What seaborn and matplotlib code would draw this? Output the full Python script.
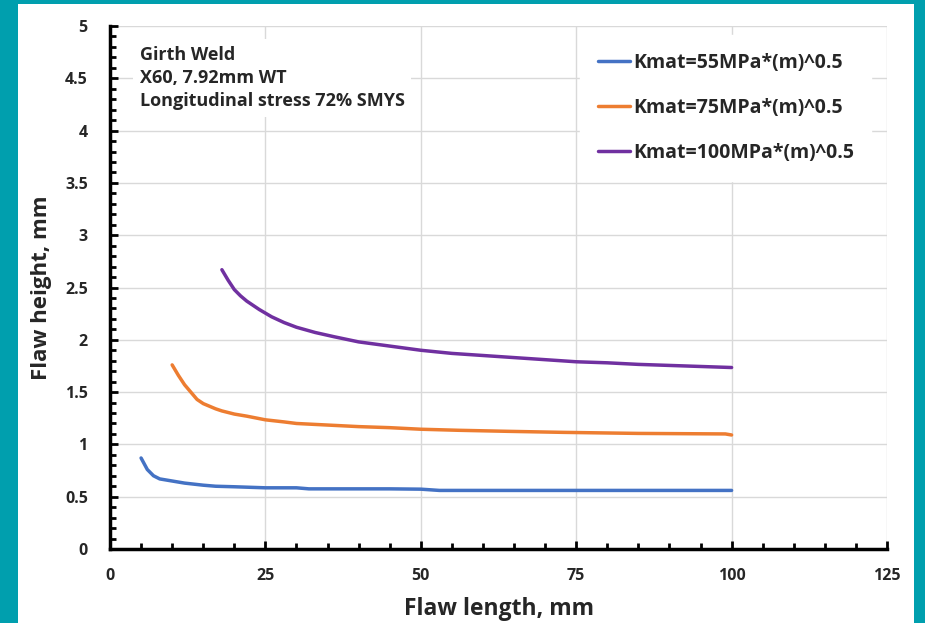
import pandas as pd
import seaborn as sns
import matplotlib.pyplot as plt
from matplotlib.patches import Rectangle
from matplotlib.ticker import MultipleLocator

# data
x_55 = [5, 6, 7, 8, 10, 12, 15, 17, 20, 25, 30, 32, 40, 45, 50, 53, 60, 70, 80, 90, 100]
y_55 = [0.87, 0.76, 0.70, 0.67, 0.65, 0.63, 0.61, 0.60, 0.595, 0.585, 0.585, 0.575, 0.575, 0.575, 0.572, 0.56, 0.56, 0.56, 0.56, 0.56, 0.56]
x_75 = [10, 11, 12, 13, 14, 15, 17, 18, 20, 22, 25, 28, 30, 35, 40, 45, 50, 56, 64, 73, 85, 99, 100]
y_75 = [1.76, 1.66, 1.57, 1.50, 1.43, 1.39, 1.34, 1.32, 1.29, 1.27, 1.235, 1.215, 1.20, 1.185, 1.17, 1.16, 1.145, 1.135, 1.125, 1.115, 1.105, 1.10, 1.09]
x_100 = [18, 19, 20, 21, 22, 24, 26, 28, 30, 33, 36, 40, 45, 50, 55, 60, 65, 70, 75, 80, 85, 90, 95, 100]
y_100 = [2.67, 2.57, 2.48, 2.42, 2.37, 2.29, 2.22, 2.165, 2.12, 2.07, 2.03, 1.98, 1.94, 1.90, 1.87, 1.85, 1.83, 1.81, 1.79, 1.78, 1.765, 1.755, 1.745, 1.735]
labels = ["Kmat=55MPa*(m)^0.5", "Kmat=75MPa*(m)^0.5", "Kmat=100MPa*(m)^0.5"]
colors = ["#4472C4", "#ED7D31", "#7030A0"]
ytick_vals = [0, 0.5, 1, 1.5, 2, 2.5, 3, 3.5, 4, 4.5, 5]
ytick_labels = ["0", "0.5", "1", "1.5", "2", "2.5", "3", "3.5", "4", "4.5", "5"]

df = pd.concat([
    pd.DataFrame({"length": x_55, "height": y_55, "series": labels[0]}),
    pd.DataFrame({"length": x_75, "height": y_75, "series": labels[1]}),
    pd.DataFrame({"length": x_100, "height": y_100, "series": labels[2]}),
])

sns.set_style("white")
plt.rcParams["font.family"] = ["Open Sans", "DejaVu Sans"]
plt.rcParams["font.weight"] = "bold"

fig = plt.figure(figsize=(9.25, 6.23), dpi=100, facecolor="#009FAE")
fig.patches.append(Rectangle((18 / 925, 0), (914 - 18) / 925, (623 - 4) / 623,
                             transform=fig.transFigure, facecolor="white", edgecolor="none", zorder=-10))
ax = fig.add_axes([110 / 925, 74 / 623, 777 / 925, 523 / 623])
ax.set_facecolor("none")

sns.lineplot(data=df, x="length", y="height", hue="series", palette=colors,
             linewidth=2.5, ax=ax, sort=False)

ax.set_xlim(0, 125)
ax.set_ylim(0, 5)
ax.xaxis.set_major_locator(MultipleLocator(25))
ax.xaxis.set_minor_locator(MultipleLocator(5))
ax.yaxis.set_minor_locator(MultipleLocator(0.1))
ax.set_yticks(ytick_vals)
ax.set_yticklabels(ytick_labels)
ax.grid(True, which="major", color="#D9D9D9", linewidth=1)
ax.tick_params(which="both", bottom=True, left=True, direction="in", color="black")
ax.tick_params(which="major", length=6, width=2, labelsize=11.5)
ax.tick_params(which="minor", length=4, width=2)
ax.tick_params(axis="x", pad=14)
ax.tick_params(axis="y", pad=16)
for s in ["top", "right"]:
    ax.spines[s].set_visible(False)
for s in ["left", "bottom"]:
    ax.spines[s].set_color("black")
    ax.spines[s].set_linewidth(2.5)

ax.set_xlabel("Flaw length, mm", fontsize=16.5, fontweight="bold", labelpad=9)
ax.set_ylabel("Flaw height, mm", fontsize=16, fontweight="bold", labelpad=9)

ax.text(0.038, 0.962, "Girth Weld\nX60, 7.92mm WT\nLongitudinal stress 72% SMYS",
        transform=ax.transAxes, fontsize=13, fontweight="bold", va="top", ha="left",
        linespacing=1.35, bbox=dict(facecolor="white", edgecolor="none", pad=5))

leg = ax.legend(loc="upper right", bbox_to_anchor=(0.985, 0.99), frameon=True, fontsize=14,
                handlelength=1.65, handletextpad=0.15, labelspacing=1.3, borderpad=0.6)
leg.get_frame().set_edgecolor("white")
leg.get_frame().set_facecolor("white")
leg.get_frame().set_alpha(1)
leg.get_frame().set_boxstyle("square")

fig.savefig("out.png", dpi=100, facecolor=fig.get_facecolor())
